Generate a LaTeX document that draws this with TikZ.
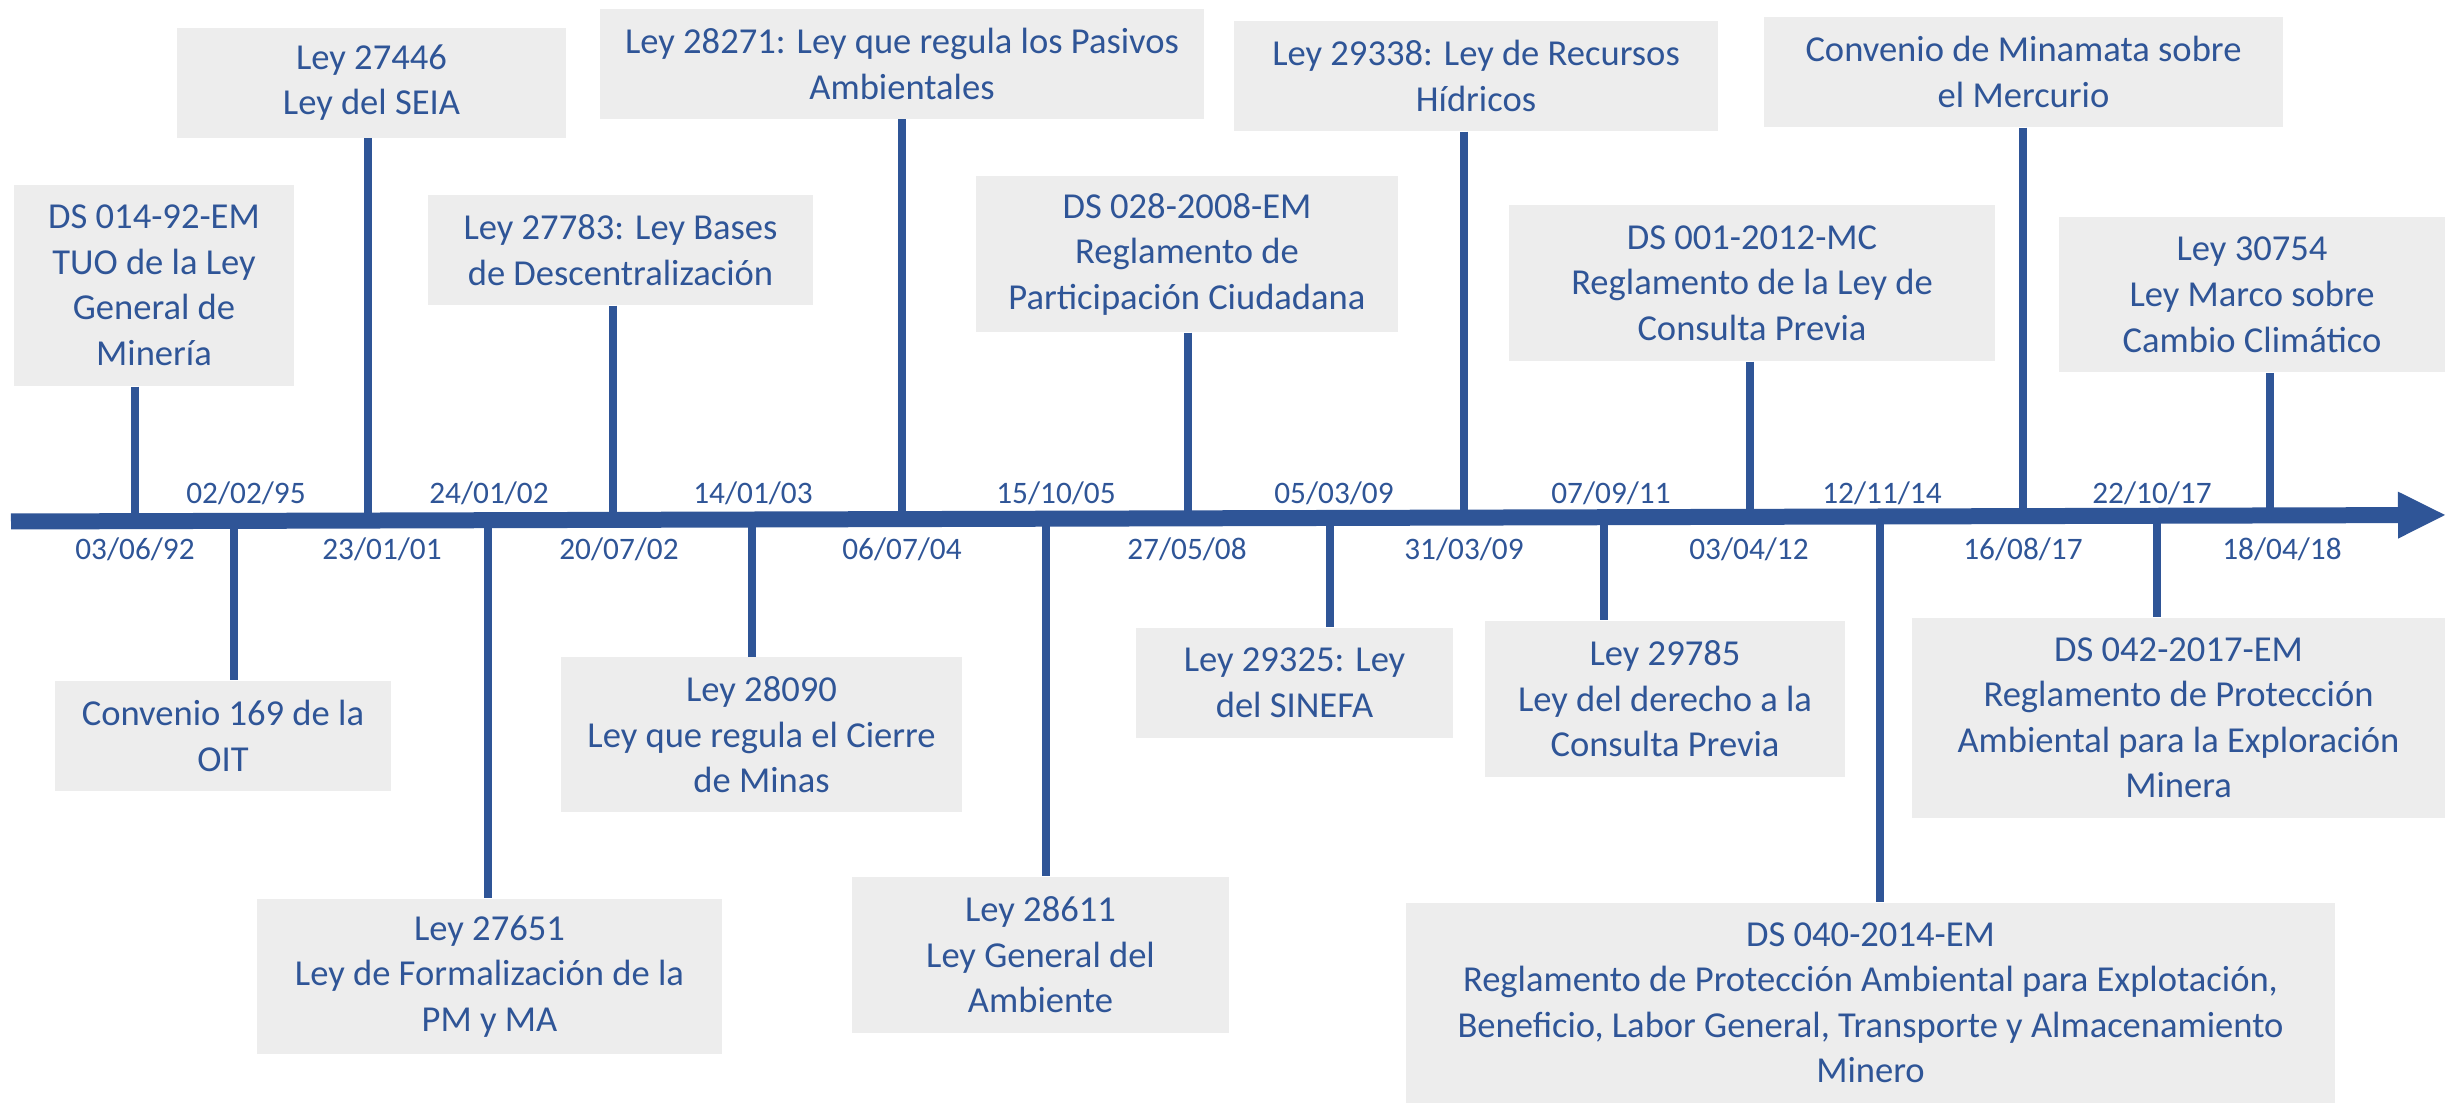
\documentclass[tikz,border=0pt]{standalone}
\usepackage{fontspec}
\setmainfont{Carlito}
\usetikzlibrary{arrows.meta}
\definecolor{azul}{HTML}{2F5597}
\definecolor{gris}{HTML}{EDEDED}

\begin{document}
\begin{tikzpicture}[x=0.1mm,y=-0.1mm,
    ley/.style={fill=gris,text=azul,align=center,inner sep=0pt,
        font=\fontsize{10.4}{12.95}\selectfont},
    fecha/.style={text=azul,inner sep=0pt,anchor=base,
        font=\fontsize{8.9}{10}\selectfont}]
    \tikzstyle{stem}=[draw=azul,line width=0.75mm]
    \tikzstyle{eje}=[draw=azul,line width=1.6mm,-{Triangle[length=4.7mm,width=4.7mm,line width=0pt]}]

    \useasboundingbox (0,0) rectangle (2453,1103);

    % normas sobre el eje
    \node[ley,minimum width=28mm,minimum height=20.1mm] (ds92) at (154,285.5) {DS 014-92-EM\\TUO de la Ley\\General de\\Minería};
    \node[ley,minimum width=38.9mm,minimum height=11mm] (ley27446) at (371.5,82.8) {Ley 27446\\Ley del SEIA};
    \node[ley,minimum width=38.5mm,minimum height=11mm] (ley27783) at (620.5,250) {Ley 27783: Ley Bases\\de Descentralización};
    \node[ley,minimum width=60.4mm,minimum height=11mm] (ley28271) at (902,63.8) {Ley 28271: Ley que regula los Pasivos\\Ambientales};
    \node[ley,minimum width=42.2mm,minimum height=15.6mm] (ds2008) at (1187,254) {DS 028-2008-EM\\Reglamento de\\Participación Ciudadana};
    \node[ley,minimum width=48.4mm,minimum height=11mm] (ley29338) at (1476,76) {Ley 29338: Ley de Recursos\\Hídricos};
    \node[ley,minimum width=48.6mm,minimum height=15.6mm] (ds2012) at (1752,283) {DS 001-2012-MC\\Reglamento de la Ley de\\Consulta Previa};
    \node[ley,minimum width=51.9mm,minimum height=11mm] (minamata) at (2023.5,72) {Convenio de Minamata sobre\\el Mercurio};
    \node[ley,minimum width=38.6mm,minimum height=15.5mm] (ley30754) at (2252,294.8) {Ley 30754\\Ley Marco sobre\\Cambio Climático};

    % normas bajo el eje
    \node[ley,minimum width=33.6mm,minimum height=11mm] (oit) at (223,735.8) {Convenio 169 de la\\OIT};
    \node[ley,minimum width=46.5mm,minimum height=15.5mm] (ley27651) at (489.5,976.5) {Ley 27651\\Ley de Formalización de la\\PM y MA};
    \node[ley,minimum width=40.1mm,minimum height=15.5mm] (ley28090) at (761.5,734.8) {Ley 28090\\Ley que regula el Cierre\\de Minas};
    \node[ley,minimum width=37.7mm,minimum height=15.6mm] (ley28611) at (1040.5,954.8) {Ley 28611\\Ley General del\\Ambiente};
    \node[ley,minimum width=31.7mm,minimum height=11mm] (ley29325) at (1294.5,682.8) {Ley 29325: Ley\\del SINEFA};
    \node[ley,minimum width=36mm,minimum height=15.6mm] (ley29785) at (1665,698.8) {Ley 29785\\Ley del derecho a la\\Consulta Previa};
    \node[ley,minimum width=92.9mm,minimum height=20mm] (ds2014) at (1870.5,1003) {DS 040-2014-EM\\Reglamento de Protección Ambiental para Explotación,\\Beneficio, Labor General, Transporte y Almacenamiento\\Minero};
    \node[ley,minimum width=53.3mm,minimum height=20mm] (ds2017) at (2178.5,717.6) {DS 042-2017-EM\\Reglamento de Protección\\Ambiental para la Exploración\\Minera};

    % puntos del eje
    \coordinate (f92) at (135,518);
    \coordinate (f95) at (234,518);
    \coordinate (f01) at (368,518);
    \coordinate (f02a) at (488,518);
    \coordinate (f02b) at (613,518);
    \coordinate (f03) at (752,518);
    \coordinate (f04) at (902,518);
    \coordinate (f05) at (1046,518);
    \coordinate (f08) at (1188,518);
    \coordinate (f09a) at (1330,518);
    \coordinate (f09b) at (1464,518);
    \coordinate (f11) at (1604,518);
    \coordinate (f12) at (1750,518);
    \coordinate (f14) at (1880,518);
    \coordinate (f17a) at (2023,518);
    \coordinate (f17b) at (2157,518);
    \coordinate (f18) at (2270,518);

    % lineas verticales
    \draw[stem] (ds92.south -| f92) -- (f92);
    \draw[stem] (ley27446.south -| f01) -- (f01);
    \draw[stem] (ley27783.south -| f02b) -- (f02b);
    \draw[stem] (ley28271.south -| f04) -- (f04);
    \draw[stem] (ds2008.south -| f08) -- (f08);
    \draw[stem] (ley29338.south -| f09b) -- (f09b);
    \draw[stem] (ds2012.south -| f12) -- (f12);
    \draw[stem] (minamata.south -| f17a) -- (f17a);
    \draw[stem] (ley30754.south -| f18) -- (f18);
    \draw[stem] (f95) -- (f95 |- oit.north);
    \draw[stem] (f02a) -- (f02a |- ley27651.north);
    \draw[stem] (f03) -- (f03 |- ley28090.north);
    \draw[stem] (f05) -- (f05 |- ley28611.north);
    \draw[stem] (f09a) -- (f09a |- ley29325.north);
    \draw[stem] (f11) -- (f11 |- ley29785.north);
    \draw[stem] (f14) -- (f14 |- ds2014.north);
    \draw[stem] (f17b) -- (f17b |- ds2017.north);

    % eje del tiempo
    \coordinate (inicio) at (11,521.5);
    \coordinate (fin) at (2445,515);
    \draw[eje] (inicio) -- (fin);

    % fechas
    \node[fecha] (l95) at (246,503.5) {02/02/95};
    \node[fecha] (l02a) at (489,503.5) {24/01/02};
    \node[fecha] (l03) at (753,503.5) {14/01/03};
    \node[fecha] (l05) at (1056,503.5) {15/10/05};
    \node[fecha] (l09a) at (1334,503.5) {05/03/09};
    \node[fecha] (l11) at (1611,503.5) {07/09/11};
    \node[fecha] (l14) at (1882,503.5) {12/11/14};
    \node[fecha] (l17b) at (2152,503.5) {22/10/17};
    \node[fecha] (l92) at (135,560) {03/06/92};
    \node[fecha] (l01) at (382,560) {23/01/01};
    \node[fecha] (l02b) at (619,560) {20/07/02};
    \node[fecha] (l04) at (902,560) {06/07/04};
    \node[fecha] (l08) at (1187,560) {27/05/08};
    \node[fecha] (l09b) at (1464,560) {31/03/09};
    \node[fecha] (l12) at (1749,560) {03/04/12};
    \node[fecha] (l17a) at (2023,560) {16/08/17};
    \node[fecha] (l18) at (2282,560) {18/04/18};

\end{tikzpicture}
\end{document}
